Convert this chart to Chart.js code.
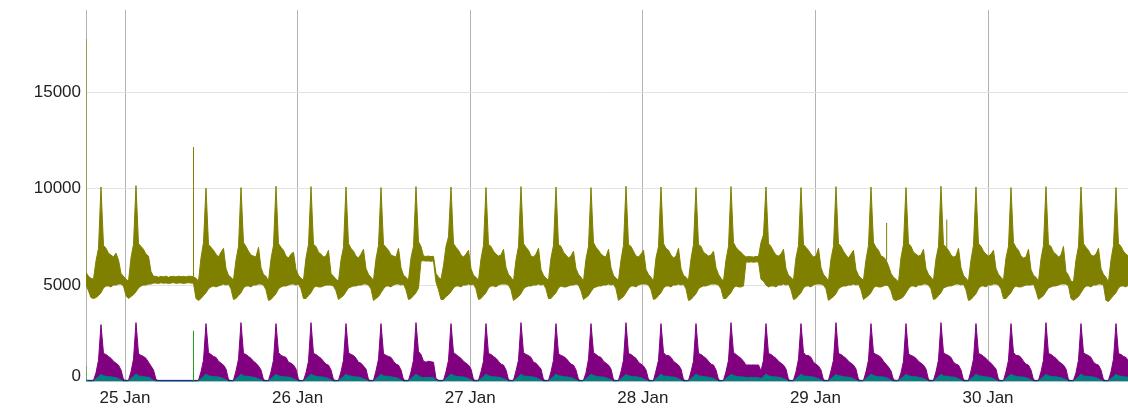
<!DOCTYPE html>
<html>
<head>
<meta charset="utf-8">
<script src="https://cdn.jsdelivr.net/npm/chart.js@4.4.1/dist/chart.umd.min.js"></script>
<style>
  html, body { margin: 0; padding: 0; background: #ffffff; }
  canvas { display: block; }
</style>
</head>
<body>
<canvas id="chart" width="1128" height="408"></canvas>
<script>
// Readings are logged on a fixed grid: hour offsets are measured from 25 Jan 00:00.
const sampleStartHour = -5.423;
const sampleStepHours = 0.3476;
const axisStartHour = -5.423;
const axisEndHour = 139.46;

const dayTickHours = [0, 24, 48, 72, 96, 120];
const dayLabels = ['25 Jan', '26 Jan', '27 Jan', '28 Jan', '29 Jan', '30 Jan'];
const valueTicks = [0, 5000, 10000, 15000];

// Upper and lower envelope of the noisy main load
const oliveHigh = [
  5650, 5450, 5350, 5300, 6250, 6900, 10080, 7050, 6900, 6650, 6550, 6450, 6650, 6300,
  5600, 5450, 5300, 5200, 6400, 7100, 10150, 7150, 7000, 6850, 6600, 6500, 5700, 5450,
  5450, 5400, 5450, 5420, 5460, 5400, 5440, 5450, 5420, 5460, 5430, 5450, 5420, 5460,
  5450, 5430, 5350, 5200, 6400, 7200, 10020, 7100, 6950, 6800, 6600, 6450, 6700, 6900,
  5850, 5500, 5400, 5250, 6300, 7000, 10050, 7200, 7000, 6750, 6550, 6500, 6450, 6950,
  5900, 5550, 5450, 5200, 6350, 7050, 10120, 7150, 6950, 6800, 6500, 6400, 6600, 6700,
  5800, 5500, 5350, 5250, 6400, 7100, 10100, 7100, 7000, 6700, 6600, 6450, 6500, 6800,
  5600, 5450, 5300, 5200, 6300, 6950, 10080, 7150, 6900, 6750, 6500, 6400, 6600, 6850,
  5850, 5550, 5400, 5250, 6350, 7050, 10050, 7100, 6950, 6800, 6550, 6500, 6450, 6900,
  5900, 5500, 5400, 5250, 6400, 7000, 10100, 7250, 7000, 6500, 6480, 6500, 6470, 6490,
  5600, 5400, 5300, 6000, 7000, 7500, 10080, 7150, 6950, 6800, 6550, 6450, 6600, 6800,
  5850, 5500, 5400, 5250, 6350, 7050, 10050, 7100, 7000, 6750, 6600, 6500, 6550, 6850,
  5900, 5550, 5400, 5200, 6300, 7000, 10100, 7150, 6950, 6800, 6500, 6450, 6600, 6900,
  5800, 5500, 5350, 5250, 6400, 7050, 10080, 7100, 7000, 6700, 6550, 6400, 6500, 6750,
  5850, 5550, 5400, 5200, 6350, 7000, 10050, 7200, 6950, 6800, 6600, 6500, 6450, 6850,
  5900, 5500, 5350, 5250, 6300, 7050, 10120, 7100, 7000, 6750, 6500, 6450, 6600, 6800,
  5800, 5550, 5400, 5200, 6400, 7000, 10080, 7150, 6900, 6800, 6550, 6400, 6500, 6900,
  5850, 5500, 5400, 5250, 6350, 7100, 10050, 7100, 7000, 6700, 6600, 6500, 6550, 6750,
  5900, 5550, 5350, 5200, 6300, 7000, 10100, 7200, 6950, 6800, 6700, 6550, 6450, 6480,
  6460, 6450, 6480, 6470, 7200, 7600, 10080, 7150, 7000, 6750, 6550, 6500, 6600, 6850,
  5850, 5500, 5400, 5250, 6400, 7050, 10050, 7100, 6950, 6800, 6600, 6450, 6500, 6900,
  5900, 5550, 5400, 5200, 6350, 7000, 10100, 7150, 7000, 6750, 6550, 6400, 6600, 6800,
  5800, 5500, 5350, 5250, 6300, 7050, 10080, 7200, 6950, 6800, 6500, 6450, 6300, 6000,
  5600, 5400, 5300, 5150, 6400, 7100, 10050, 7150, 7000, 6700, 6600, 6500, 6550, 6850,
  5850, 5550, 5400, 5250, 6350, 7000, 10120, 7100, 6950, 6800, 6550, 6450, 6500, 6900,
  5900, 5500, 5350, 5200, 6300, 7050, 10080, 7150, 7000, 6750, 6600, 6500, 6600, 6800,
  5850, 5550, 5400, 5250, 6400, 7000, 10050, 7200, 6950, 6800, 6500, 6400, 6450, 6850,
  5800, 5500, 5400, 5200, 6350, 7050, 10100, 7100, 7000, 6700, 6600, 6450, 6550, 7000,
  5700, 5500, 5200, 5150, 6300, 7000, 10080, 7150, 6950, 6800, 6550, 6500, 6600, 6900,
  5850, 5550, 5400, 5150, 6300, 7050, 10050, 7150, 7000, 6750, 6600, 6500
];

const oliveLow = [
  5000, 4700, 4350, 4300, 4350, 4450, 4600, 4850, 4950, 4950, 4900, 5000, 5000, 5050,
  5050, 4950, 4450, 4300, 4400, 4500, 4650, 4850, 4950, 5000, 5000, 5050, 5050, 5100,
  5100, 5080, 5120, 5090, 5110, 5080, 5100, 5120, 5090, 5100, 5110, 5080, 5100, 5120,
  5100, 5090, 4300, 4200, 4300, 4450, 4600, 4800, 4900, 4950, 4900, 4950, 5000, 5050,
  5000, 5050, 4800, 4250, 4300, 4450, 4600, 4850, 4950, 4950, 4900, 5000, 5000, 5050,
  5050, 5000, 4750, 4200, 4250, 4400, 4550, 4800, 4900, 4950, 4950, 5000, 5050, 5050,
  5000, 5050, 4800, 4300, 4300, 4450, 4600, 4850, 4950, 4900, 4900, 4950, 5000, 5000,
  5000, 4950, 4700, 4250, 4350, 4450, 4650, 4850, 4900, 4950, 4950, 5000, 5000, 5050,
  5050, 5000, 4800, 4200, 4300, 4400, 4600, 4800, 4950, 4950, 4900, 5000, 5050, 5050,
  5000, 5050, 4750, 4250, 4300, 4450, 4600, 4850, 6250, 6260, 6240, 6250, 6230, 6250,
  5150, 4750, 4250, 4250, 4400, 4500, 4650, 4850, 4950, 4950, 4900, 5000, 5000, 5050,
  5000, 5050, 4800, 4250, 4300, 4450, 4600, 4850, 4950, 4950, 4900, 5000, 5050, 5050,
  5050, 5000, 4750, 4200, 4300, 4400, 4550, 4800, 4900, 4950, 4950, 5000, 5000, 5050,
  5000, 5050, 4800, 4300, 4300, 4450, 4600, 4850, 4950, 4900, 4900, 4950, 5000, 5000,
  5050, 5000, 4700, 4250, 4350, 4450, 4650, 4850, 4900, 4950, 4950, 5000, 5000, 5050,
  5000, 5050, 4800, 4200, 4300, 4400, 4600, 4800, 4950, 4950, 4900, 5000, 5050, 5050,
  5050, 5000, 4750, 4250, 4300, 4450, 4600, 4850, 4950, 4950, 4900, 5000, 5000, 5050,
  5000, 5050, 4800, 4200, 4250, 4400, 4550, 4800, 4900, 4950, 4950, 5000, 5050, 5050,
  5050, 5000, 4800, 4300, 4300, 4450, 4600, 4850, 4950, 4900, 4900, 4950, 6200, 6180,
  6200, 6180, 6200, 6190, 5300, 5200, 5000, 4900, 4950, 4950, 4900, 5000, 5000, 5050,
  5000, 5050, 4750, 4250, 4300, 4450, 4600, 4850, 4950, 4950, 4900, 5000, 5050, 5050,
  5050, 5000, 4800, 4200, 4300, 4400, 4550, 4800, 4900, 4950, 4950, 5000, 5000, 5050,
  5000, 5050, 4750, 4250, 4350, 4450, 4600, 4850, 4950, 4900, 4900, 4950, 5000, 4950,
  4700, 4250, 4200, 4250, 4300, 4400, 4600, 4800, 4950, 4950, 4900, 5000, 5000, 5050,
  5050, 5000, 4800, 4250, 4300, 4450, 4600, 4850, 4900, 4950, 4950, 5000, 5050, 5050,
  5000, 5050, 4750, 4200, 4250, 4400, 4550, 4800, 4950, 4950, 4900, 5000, 5000, 5050,
  5050, 5000, 4800, 4300, 4300, 4450, 4600, 4850, 4950, 4900, 4900, 4950, 5000, 5000,
  5000, 5050, 4700, 4250, 4350, 4450, 4650, 4850, 4900, 4950, 4950, 5000, 5050, 5050,
  5050, 4950, 4300, 4200, 4300, 4400, 4600, 4800, 4950, 4950, 4900, 5000, 5000, 5050,
  5050, 5000, 4200, 4150, 4300, 4450, 4600, 4850, 4950, 4950, 4900, 5000
];

const purpleLoad = [
  60, 50, 40, 60, 450, 1100, 2950, 1450, 1400, 1300, 1200, 1050, 950, 850,
  600, 100, 40, 60, 500, 1150, 3050, 1450, 1350, 1300, 1200, 1000, 800, 600,
  100, 30, 30, 30, 30, 30, 30, 30, 30, 30, 30, 30, 30, 30,
  30, 30, 40, 60, 500, 1100, 3000, 1500, 1400, 1300, 1250, 1050, 950, 850,
  650, 100, 40, 60, 550, 1150, 3050, 1450, 1400, 1300, 1200, 1050, 950, 800,
  600, 100, 40, 50, 500, 1100, 3000, 1500, 1350, 1300, 1250, 1000, 950, 850,
  650, 90, 40, 60, 450, 1050, 3050, 1450, 1400, 1300, 1200, 1050, 900, 850,
  600, 100, 40, 60, 500, 1100, 3000, 1500, 1400, 1350, 1200, 1000, 950, 800,
  650, 100, 40, 60, 550, 1150, 3000, 1450, 1350, 1300, 1250, 1050, 900, 850,
  600, 100, 40, 50, 500, 1100, 3050, 1550, 1400, 1050, 1000, 1050, 1020, 1000,
  150, 60, 40, 60, 500, 1100, 3000, 1500, 1400, 1300, 1200, 1050, 950, 850,
  650, 100, 40, 60, 500, 1050, 3000, 1450, 1400, 1300, 1200, 1050, 900, 850,
  600, 90, 40, 60, 550, 1100, 3050, 1500, 1400, 1350, 1250, 1000, 950, 800,
  650, 100, 40, 50, 500, 1100, 3000, 1450, 1350, 1300, 1200, 1050, 900, 850,
  600, 100, 40, 60, 450, 1150, 3000, 1500, 1400, 1300, 1250, 1050, 950, 850,
  650, 90, 40, 60, 500, 1100, 3050, 1450, 1400, 1300, 1200, 1000, 900, 800,
  600, 100, 40, 60, 550, 1100, 3000, 1500, 1350, 1350, 1250, 1050, 950, 850,
  650, 100, 40, 50, 500, 1050, 3000, 1450, 1400, 1300, 1200, 1050, 900, 850,
  600, 100, 40, 60, 500, 1100, 3050, 1500, 1400, 1300, 1200, 1050, 850, 860,
  850, 860, 850, 860, 550, 1100, 3000, 1450, 1400, 1300, 1200, 1050, 950, 850,
  650, 100, 40, 60, 500, 1150, 3000, 1500, 1350, 1350, 1250, 1000, 900, 800,
  600, 90, 40, 60, 550, 1100, 3050, 1450, 1400, 1300, 1200, 1050, 950, 850,
  650, 100, 40, 50, 500, 1100, 3000, 1500, 1400, 1350, 1250, 1050, 900, 750,
  550, 100, 40, 60, 450, 1050, 3000, 1450, 1350, 1300, 1200, 1050, 950, 850,
  650, 100, 40, 60, 500, 1100, 3050, 1500, 1400, 1350, 1250, 1000, 900, 850,
  600, 90, 40, 60, 550, 1150, 3000, 1450, 1400, 1300, 1200, 1050, 950, 800,
  650, 100, 40, 50, 500, 1100, 3000, 1500, 1350, 1350, 1250, 1050, 900, 850,
  600, 100, 40, 60, 500, 1100, 3050, 1450, 1400, 1300, 1200, 1050, 950, 850,
  650, 90, 40, 60, 450, 1100, 3000, 1500, 1400, 1350, 1250, 1000, 900, 850,
  600, 100, 40, 60, 500, 1150, 3000, 1450, 1400, 1300, 1250, 1050
];

const tealLoad = [
  60, 20, 20, 30, 150, 250, 370, 300, 260, 250, 240, 220, 200, 150,
  80, 20, 20, 30, 160, 260, 390, 300, 270, 250, 230, 220, 150, 60,
  20, 20, 20, 20, 20, 20, 20, 20, 20, 20, 20, 20, 20, 20,
  20, 20, 20, 30, 150, 250, 380, 300, 270, 250, 240, 230, 200, 150,
  80, 20, 20, 30, 140, 240, 390, 290, 270, 260, 240, 220, 190, 140,
  90, 20, 20, 30, 150, 260, 370, 300, 260, 250, 230, 230, 200, 150,
  70, 20, 20, 30, 160, 250, 380, 310, 270, 240, 240, 220, 200, 160,
  80, 20, 20, 30, 150, 240, 390, 300, 280, 250, 230, 230, 190, 140,
  90, 20, 20, 30, 140, 250, 370, 290, 270, 260, 240, 220, 200, 150,
  80, 20, 20, 30, 150, 260, 380, 300, 210, 200, 210, 200, 210, 200,
  60, 20, 20, 30, 160, 250, 390, 310, 270, 250, 240, 230, 200, 150,
  80, 20, 20, 30, 150, 240, 380, 300, 260, 250, 230, 220, 190, 150,
  90, 20, 20, 30, 140, 250, 370, 290, 270, 260, 240, 230, 200, 140,
  70, 20, 20, 30, 150, 260, 390, 300, 280, 250, 240, 220, 200, 160,
  80, 20, 20, 30, 160, 250, 380, 310, 270, 240, 230, 230, 190, 150,
  90, 20, 20, 30, 150, 240, 370, 300, 260, 250, 240, 220, 200, 140,
  80, 20, 20, 30, 140, 250, 390, 290, 270, 260, 230, 230, 200, 150,
  70, 20, 20, 30, 150, 260, 380, 300, 280, 250, 240, 220, 190, 160,
  80, 20, 20, 30, 160, 250, 370, 310, 270, 240, 240, 230, 210, 200,
  210, 200, 210, 200, 150, 250, 390, 300, 260, 250, 230, 220, 200, 150,
  90, 20, 20, 30, 140, 240, 380, 290, 270, 260, 240, 230, 190, 140,
  80, 20, 20, 30, 150, 250, 370, 300, 280, 250, 230, 220, 200, 150,
  70, 20, 20, 30, 160, 260, 390, 310, 270, 240, 240, 230, 200, 160,
  60, 20, 20, 30, 150, 250, 380, 300, 260, 250, 240, 220, 190, 150,
  90, 20, 20, 30, 140, 240, 370, 290, 270, 260, 230, 230, 200, 140,
  80, 20, 20, 30, 150, 250, 390, 300, 280, 250, 240, 220, 200, 150,
  70, 20, 20, 30, 160, 260, 380, 310, 270, 240, 230, 230, 190, 160,
  80, 20, 20, 30, 150, 250, 370, 300, 260, 250, 240, 220, 200, 150,
  90, 20, 20, 30, 140, 240, 390, 290, 270, 260, 240, 230, 200, 140,
  80, 20, 20, 30, 150, 250, 380, 300, 270, 250, 230, 220
];

// Sparse baseline readings
const navyHours = [-5.423, 20, 48, 80, 110, 139.46];
const navyLoad = [60, 55, 60, 55, 60, 55];

// Short single-reading spikes (drawn as thin vertical strokes)
const oliveSpikeHours = [-5.423, 9.524, 105.9, 114.26];
const oliveSpikeBase = [5500, 5450, 6300, 6800];
const oliveSpikeTop = [17750, 12150, 8220, 8390];

const greenSpikeHours = [-5.423, 9.524];
const greenSpikeBase = [0, 0];
const greenSpikeTop = [800, 2630];

const FONT = '"Liberation Sans", Arial, Helvetica, sans-serif';
const OLIVE = '#808000';
const PURPLE = '#800080';
const TEAL = '#008080';
const NAVY = '#000080';
const GREEN = '#1f9e1f';

const hourAt = i => sampleStartHour + i * sampleStepHours;
const asPoints = arr => arr.map((v, i) => ({ x: hourAt(i), y: v }));
const pairPoints = (hours, vals) => hours.map((h, i) => ({ x: h, y: vals[i] }));
function spikePoints(hours, base, top) {
  const pts = [];
  hours.forEach((h, i) => {
    if (i > 0) pts.push({ x: h, y: null });
    pts.push({ x: h, y: base[i] });
    pts.push({ x: h, y: top[i] });
  });
  return pts;
}

const lineDefaults = { pointRadius: 0, pointHoverRadius: 0, borderWidth: 1, tension: 0 };

new Chart(document.getElementById('chart'), {
  type: 'line',
  data: {
    datasets: [
      { ...lineDefaults, data: spikePoints(oliveSpikeHours, oliveSpikeBase, oliveSpikeTop),
        borderColor: OLIVE, fill: false, spanGaps: false },
      { ...lineDefaults, data: spikePoints(greenSpikeHours, greenSpikeBase, greenSpikeTop),
        borderColor: GREEN, fill: false, spanGaps: false },
      { ...lineDefaults, data: asPoints(oliveHigh), borderColor: OLIVE,
        backgroundColor: OLIVE, fill: '+1' },
      { ...lineDefaults, data: asPoints(oliveLow), borderColor: OLIVE, fill: false },
      { ...lineDefaults, data: asPoints(tealLoad), borderColor: TEAL,
        backgroundColor: TEAL, fill: 'origin' },
      { ...lineDefaults, data: pairPoints(navyHours, navyLoad), borderColor: NAVY, fill: false },
      { ...lineDefaults, data: asPoints(purpleLoad), borderColor: PURPLE,
        backgroundColor: PURPLE, fill: 'origin' }
    ]
  },
  options: {
    responsive: false,
    animation: false,
    events: [],
    layout: { padding: { top: 10, left: 0, right: 0, bottom: 0 } },
    plugins: { legend: { display: false }, tooltip: { enabled: false } },
    scales: {
      x: {
        type: 'linear',
        min: axisStartHour,
        max: axisEndHour,
        afterBuildTicks: s => { s.ticks = dayTickHours.map(v => ({ value: v })); },
        afterFit: s => { s.height = 26.5; s.paddingLeft = 0; s.paddingRight = 0; },
        grid: { color: '#b2b2b2', lineWidth: 1, drawTicks: false },
        border: { display: false },
        ticks: {
          padding: 7, color: '#222222', maxRotation: 0, autoSkip: false,
          font: { family: FONT, size: 17 },
          callback: (v, i) => dayLabels[i]
        }
      },
      y: {
        type: 'linear',
        min: 0,
        max: 19250,
        afterBuildTicks: s => { s.ticks = valueTicks.map(v => ({ value: v })); },
        afterFit: s => { s.width = 86; s.paddingTop = 0; s.paddingBottom = 0; },
        grid: { color: '#e2e2e2', lineWidth: 1, drawTicks: false },
        border: { display: true, color: '#b2b2b2', width: 1 },
        ticks: {
          padding: 5, color: '#222222',
          font: ctx => ({ family: FONT, size: 17,
            lineHeight: (ctx.tick && ctx.tick.value === 0) ? '11px' : 1.2 }),
          callback: v => (v === 0 ? ['0', ''] : String(v))
        }
      }
    }
  }
});
</script>
</body>
</html>
